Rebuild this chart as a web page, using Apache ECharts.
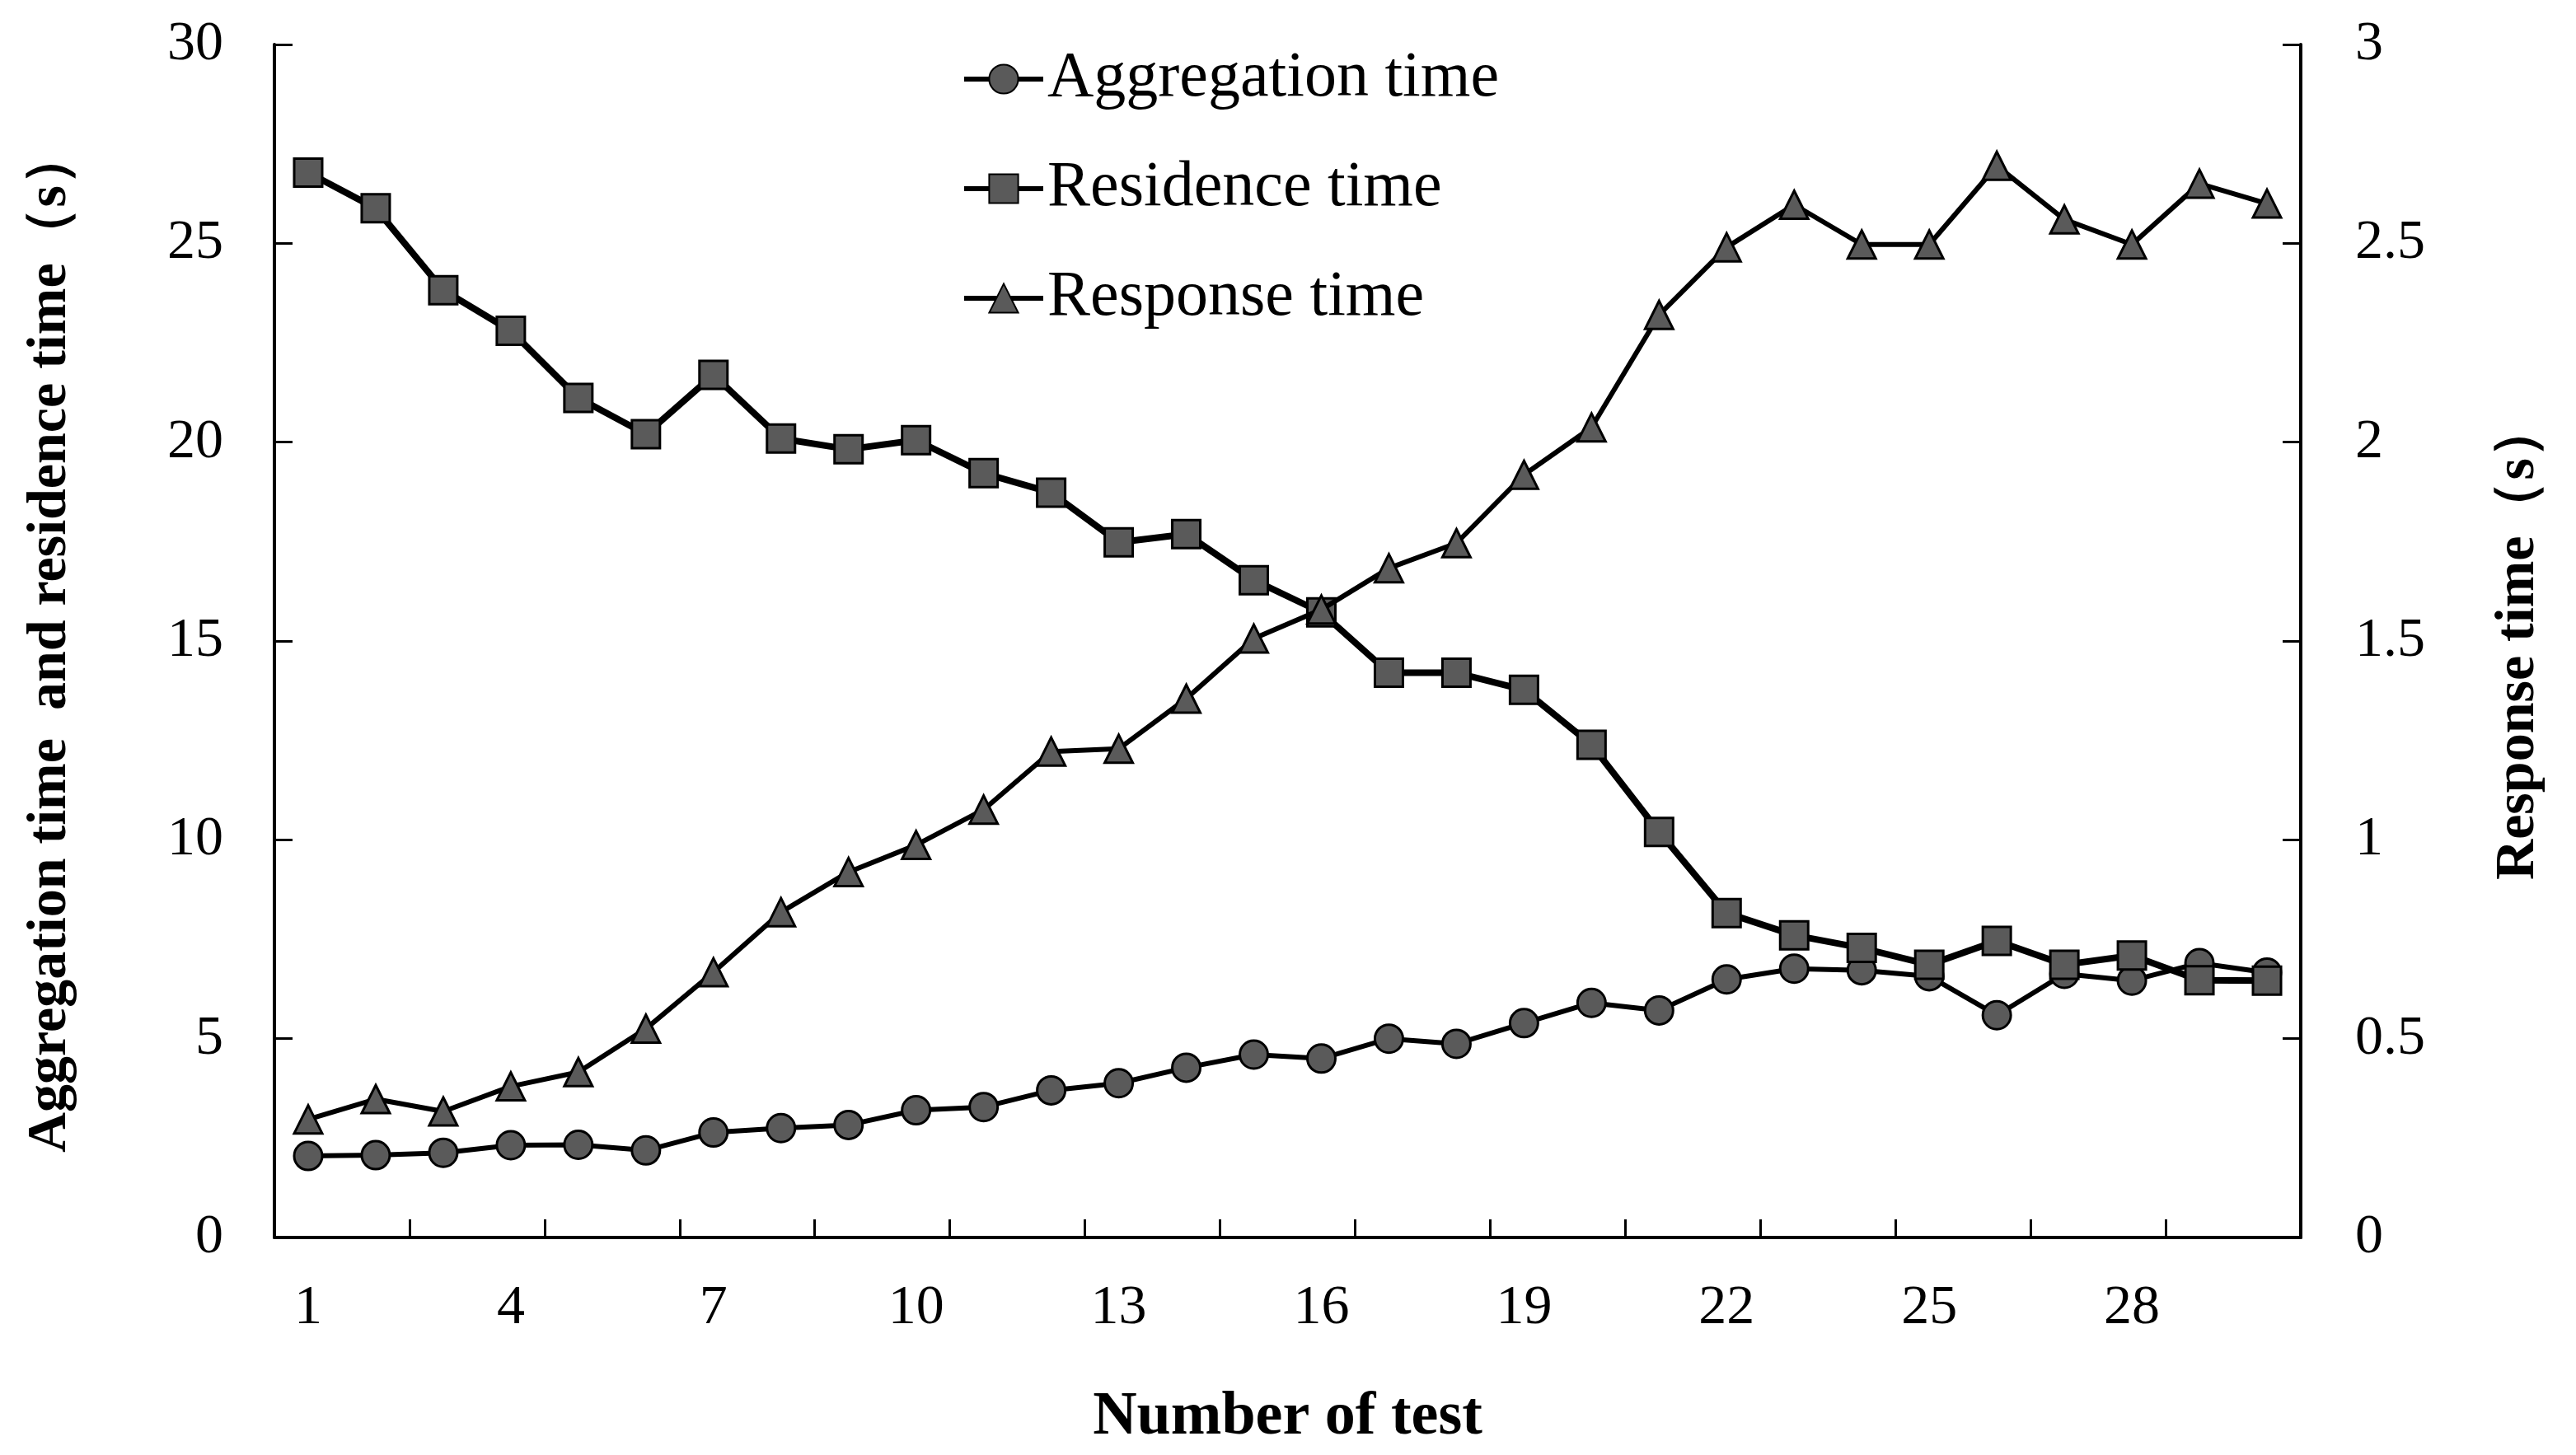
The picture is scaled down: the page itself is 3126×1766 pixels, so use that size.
<!DOCTYPE html>
<html>
<head>
<meta charset="utf-8">
<script src="https://cdn.jsdelivr.net/npm/echarts@6/dist/echarts.min.js"></script>
<style>html,body{margin:0;padding:0;background:#fff}#c{width:3126px;height:1766px}</style>
</head>
<body>
<div id="c"></div>
<script>
const categories = ['1','2','3','4','5','6','7','8','9','10','11','12','13','14','15','16','17','18','19','20','21','22','23','24','25','26','27','28','29','30'];
const aggregationTime = [2.05,2.07,2.13,2.32,2.33,2.19,2.64,2.75,2.83,3.2,3.28,3.7,3.88,4.27,4.6,4.5,5.0,4.87,5.39,5.9,5.71,6.49,6.76,6.72,6.57,5.59,6.63,6.46,6.9,6.66];
const residenceTime = [26.78,25.88,23.82,22.8,21.11,20.2,21.69,20.09,19.82,20.05,19.22,18.73,17.48,17.69,16.53,15.72,14.2,14.2,13.77,12.39,10.2,8.16,7.6,7.28,6.86,7.46,6.86,7.09,6.47,6.46];
const responseTime = [0.297,0.348,0.317,0.38,0.416,0.525,0.667,0.818,0.919,0.987,1.076,1.222,1.229,1.355,1.506,1.579,1.683,1.746,1.918,2.037,2.32,2.49,2.597,2.497,2.497,2.695,2.56,2.497,2.65,2.6];
const leftTicks = {min: 0, max: 30, interval: 5};
const rightTicks = {min: 0, max: 3, interval: 0.5};

const font = '"Liberation Serif", "Times New Roman", serif';
const markerStyle = {color: '#5a5a5a', borderColor: '#000', borderWidth: 3};
const axisBase = {
  axisLine: {show: true, lineStyle: {color: '#000', width: 4}},
  axisTick: {show: true, inside: true, length: 22, lineStyle: {color: '#000', width: 3}},
  splitLine: {show: false}
};
const chart = echarts.init(document.getElementById('c'));
chart.setOption({
  backgroundColor: '#fff',
  animation: false,
  grid: {left: 333, right: 334, top: 54, bottom: 264},
  legend: {
    orient: 'vertical', left: 1162, top: 50,
    itemWidth: 96, itemHeight: 44, itemGap: 51,
    lineStyle: {width: 6, color: '#000'},
    textStyle: {fontFamily: font, fontSize: 78, color: '#000', lineHeight: 82},
    data: ['Aggregation time', 'Residence time', 'Response time']
  },
  xAxis: Object.assign({}, axisBase, {
    type: 'category', data: categories, boundaryGap: true,
    axisTick: {show: true, inside: true, length: 22, interval: function (i) { return i % 2 === 0; }, lineStyle: {color: '#000', width: 3}},
    axisLabel: {interval: 2, fontFamily: font, fontSize: 68, color: '#000', margin: 52},
    name: 'Number of test', nameLocation: 'middle', nameGap: 182,
    nameTextStyle: {fontFamily: font, fontSize: 74, fontWeight: 'bold', color: '#000'}
  }),
  yAxis: [
    Object.assign({}, axisBase, {
      type: 'value', position: 'left', min: leftTicks.min, max: leftTicks.max, interval: leftTicks.interval,
      axisLabel: {fontFamily: font, fontSize: 68, color: '#000', margin: 62},
      name: 'Aggregation time  and residence time（s）', nameLocation: 'middle', nameRotate: 90, nameGap: 238,
      nameTextStyle: {fontFamily: font, fontSize: 68, fontWeight: 'bold', color: '#000'}
    }),
    Object.assign({}, axisBase, {
      type: 'value', position: 'right', min: rightTicks.min, max: rightTicks.max, interval: rightTicks.interval,
      axisLabel: {fontFamily: font, fontSize: 68, color: '#000', margin: 66},
      name: 'Response time（s）', nameLocation: 'middle', nameRotate: 90, nameGap: 230,
      nameTextStyle: {fontFamily: font, fontSize: 68, fontWeight: 'bold', color: '#000'}
    })
  ],
  series: [
    {name: 'Aggregation time', type: 'line', data: aggregationTime, yAxisIndex: 0,
     symbol: 'circle', symbolSize: 34, lineStyle: {color: '#000', width: 6}, itemStyle: markerStyle, z: 2},
    {name: 'Residence time', type: 'line', data: residenceTime, yAxisIndex: 0,
     symbol: 'rect', symbolSize: 34, lineStyle: {color: '#000', width: 8}, itemStyle: markerStyle, z: 3},
    {name: 'Response time', type: 'line', data: responseTime, yAxisIndex: 1,
     symbol: 'triangle', symbolSize: 34, lineStyle: {color: '#000', width: 6}, itemStyle: markerStyle, z: 4}
  ]
});
</script>
</body>
</html>
